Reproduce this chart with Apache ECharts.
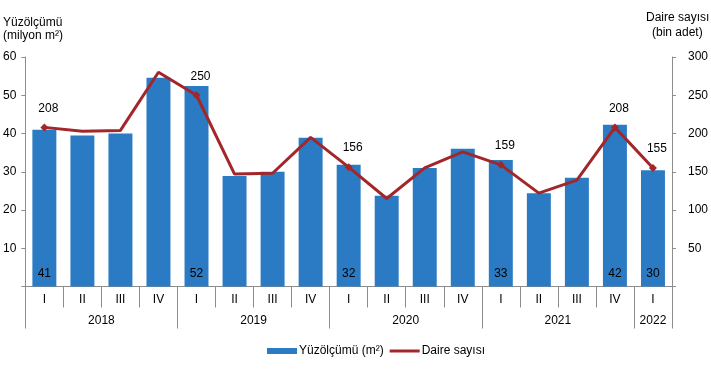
<!DOCTYPE html>
<html>
<head>
<meta charset="utf-8">
<script src="https://cdn.jsdelivr.net/npm/echarts@6/dist/echarts.min.js"></script>
<style>
html,body{margin:0;padding:0;background:#fff;}
#c{width:711px;height:388px;}
</style>
</head>
<body>
<div id="c"></div>
<script>
var quarters = ['I','II','III','IV','I','II','III','IV','I','II','III','IV','I','II','III','IV','I'];
var years = ['2018','2019','2020','2021','2022'];
var yearCenters = [2, 6, 10, 14, 16.5];
var yearBounds = [0, 4, 8, 12, 16, 17];
var area = [41.0, 39.5, 40.0, 54.6, 52.4, 28.9, 30.0, 38.9, 31.8, 23.7, 31.0, 36.0, 33.1, 24.4, 28.4, 42.3, 30.4];
var areaLabelIdx = [0, 4, 8, 12, 15, 16];
var dwellings = [208, 203, 204, 280, 250, 147, 148, 195, 156, 115, 155, 176, 159, 122, 139, 208, 155];
var dwellLabelIdx = [0, 4, 8, 12, 15, 16];

var FONT = '"Liberation Sans", Arial, sans-serif';
var axisGray = '#8c8c8c';

var barData = area.map(function(v, i){
  return {value: v, label: {show: areaLabelIdx.indexOf(i) >= 0}};
});
var lineData = dwellings.map(function(v, i){
  var on = dwellLabelIdx.indexOf(i) >= 0;
  return {value: v, symbol: on ? 'diamond' : 'none', symbolSize: on ? 8 : 0, label: {show: on}};
});

var chart = echarts.init(document.getElementById('c'), null, {renderer: 'canvas'});
chart.setOption({
  animation: false,
  textStyle: {fontFamily: FONT},
  grid: {left: 24, right: 38, top: 57, bottom: 101.5, containLabel: false},
  graphic: [
    {type: 'text', left: 3, top: 16, style: {text: 'Yüzölçümü\n(milyon m²)', font: '12px ' + FONT, fill: '#000', lineHeight: 13}},
    {type: 'text', left: 646, top: 12, style: {text: 'Daire sayısı', font: '12px ' + FONT, fill: '#000'}},
    {type: 'text', left: 652, top: 27, style: {text: '(bin adet)', font: '12px ' + FONT, fill: '#000'}}
  ],
  legend: {
    bottom: 26,
    left: 262,
    itemWidth: 30,
    itemHeight: 6,
    itemGap: 6,
    textStyle: {fontFamily: FONT, fontSize: 12, color: '#000', padding: [0, 0, 0, -3]},
    data: [
      {name: 'Yüzölçümü (m²)', icon: 'rect'},
      {name: 'Daire sayısı', icon: 'path://M0,0 L30,0 L30,3 L0,3 Z', itemStyle: {color: '#A3262A'}}
    ]
  },
  xAxis: [
    {
      type: 'category',
      data: quarters,
      position: 'bottom',
      axisLine: {show: true, lineStyle: {color: axisGray, width: 1}},
      axisTick: {show: true, alignWithLabel: false, length: 21, lineStyle: {color: axisGray}},
      axisLabel: {fontFamily: FONT, fontSize: 12, color: '#000', margin: 7, interval: 0},
      splitLine: {show: false}
    },
    {
      type: 'value',
      min: 0,
      max: 17,
      position: 'bottom',
      axisLine: {show: false},
      axisTick: {show: true, length: 42, customValues: yearBounds, lineStyle: {color: axisGray}},
      axisLabel: {
        fontFamily: FONT, fontSize: 12, color: '#000', margin: 28,
        customValues: yearCenters,
        formatter: function(v){ var k = yearCenters.indexOf(v); return k >= 0 ? years[k] : ''; }
      },
      splitLine: {show: false}
    }
  ],
  yAxis: [
    {
      type: 'value', min: 0, max: 60, interval: 10,
      axisLine: {show: true, lineStyle: {color: axisGray}},
      axisTick: {show: true, length: 4, lineStyle: {color: axisGray}},
      axisLabel: {fontFamily: FONT, fontSize: 12, color: '#000', margin: 9,
        formatter: function(v){ return v === 0 ? '' : v; }},
      splitLine: {show: false}
    },
    {
      type: 'value', min: 0, max: 300, interval: 50, position: 'right',
      axisLine: {show: true, lineStyle: {color: axisGray}},
      axisTick: {show: true, length: 4, lineStyle: {color: axisGray}},
      axisLabel: {fontFamily: FONT, fontSize: 12, color: '#000', margin: 16,
        formatter: function(v){ return v === 0 ? '' : v; }},
      splitLine: {show: false}
    }
  ],
  series: [
    {
      name: 'Yüzölçümü (m²)',
      type: 'bar',
      xAxisIndex: 0, yAxisIndex: 0,
      data: barData,
      barCategoryGap: '37%',
      itemStyle: {color: '#2A7BC3'},
      label: {position: 'insideBottom', distance: 7, fontFamily: FONT, fontSize: 12, color: '#000',
        formatter: function(p){ return Math.round(p.value); }}
    },
    {
      name: 'Daire sayısı',
      type: 'line',
      xAxisIndex: 0, yAxisIndex: 1,
      data: lineData,
      symbol: 'none',
      lineStyle: {color: '#A3262A', width: 3},
      itemStyle: {color: '#A3262A'},
      label: {position: 'top', distance: 9, offset: [4, 0], fontFamily: FONT, fontSize: 12, color: '#000'},
      z: 5
    }
  ]
});
</script>
</body>
</html>
